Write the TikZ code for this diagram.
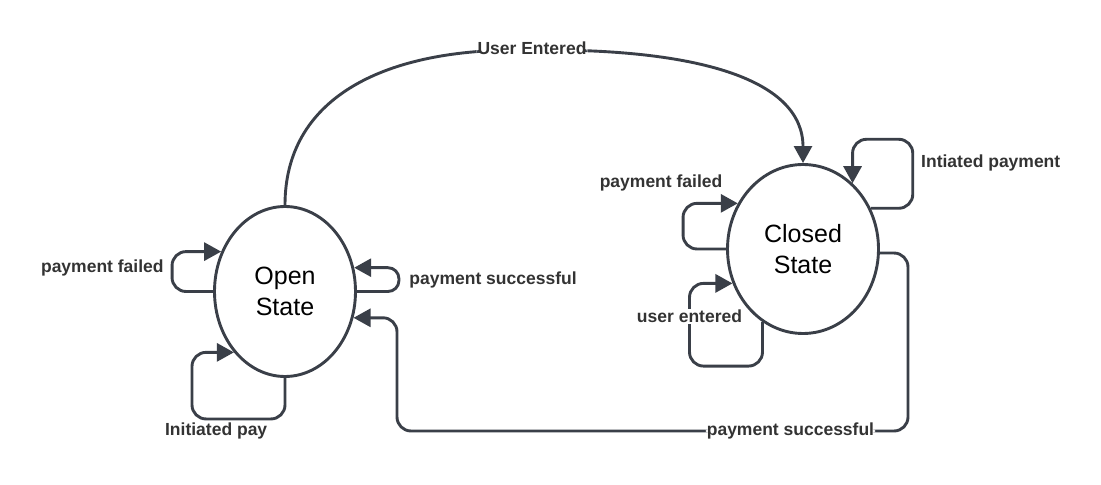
\documentclass[tikz,border=0pt]{standalone}
\usepackage{fontspec}
\setmainfont{Liberation Sans}
\usepackage{tikz}
\usetikzlibrary{arrows.meta,positioning,shapes.geometric}
\definecolor{edgegray}{RGB}{58,63,72}
\definecolor{textgray}{RGB}{51,51,51}
\tikzset{
        state/.style = {draw=edgegray, ellipse, line width=2.9bp,
            fill=white, inner sep=0pt, align=center, text=black,
            font=\fontsize{25bp}{31bp}\selectfont},
        lbl/.style = {text=textgray, inner sep=1bp,
            font=\bfseries\fontsize{17.5bp}{21bp}\selectfont},
        onlbl/.style = {lbl, fill=white},
        link/.style = {draw=edgegray, line width=2.9bp, rounded corners=14bp},
    }

\begin{document}
\begin{tikzpicture}[->, >={Triangle[length=17bp,width=18bp]}, x=1bp, y=-1bp, node distance=518bp]
		\useasboundingbox (0,0) rectangle (1101,485);
		\node[state, minimum width=141bp, minimum height=170bp]    (OpenState) at (285,291.5)    {Open\\State};
		\node[state, minimum width=151bp, minimum height=169bp]    (ClosedState)[right of=OpenState, yshift=42.5bp]    {Closed\\State};
		% open -> closed
		\draw[link] (OpenState.north) .. controls (285,100) and (380,50) .. (532,50)
			node[onlbl, yshift=2bp] {User Entered}
			.. controls (700,50) and (803,80) .. (ClosedState.north);
		% loops of the open state
		\draw[link] (OpenState.west) -- ++(-41,0)
			|- node[lbl, left=6bp, pos=0.3] {payment failed} (OpenState.148);
		\draw[link, rounded corners=11bp] (OpenState.east) -- ++(42,0)
			|- node[lbl, right=8bp, pos=0.25] {payment successful} (OpenState.19);
		\draw[link] (OpenState.south)
			|- node[lbl, below=1bp, pos=0.87] {Initiated pay} ++(-93,41)
			|- (OpenState.230);
		% loops of the closed state
		\draw[link] (ClosedState.west) -- ++(-43,0)
			|- node[lbl, above=10bp, xshift=-22bp, pos=0.5] {payment failed} (ClosedState.145);
		\draw[link] (ClosedState.241) |- ++(-73,44)
			|- node[onlbl, pos=0.3] {user entered} (ClosedState.206.5);
		\draw[link] (ClosedState.31)
			-| node[lbl, right=6bp, pos=0.83] {Intiated payment} ++(42,-69)
			-| (ClosedState.53.5);
		% closed -> open
		\draw[link] (ClosedState.357) -| (908,431)
			-- node[onlbl, pos=0.23] {payment successful} (397,431)
			|- (OpenState.339);
\end{tikzpicture}
\end{document}
